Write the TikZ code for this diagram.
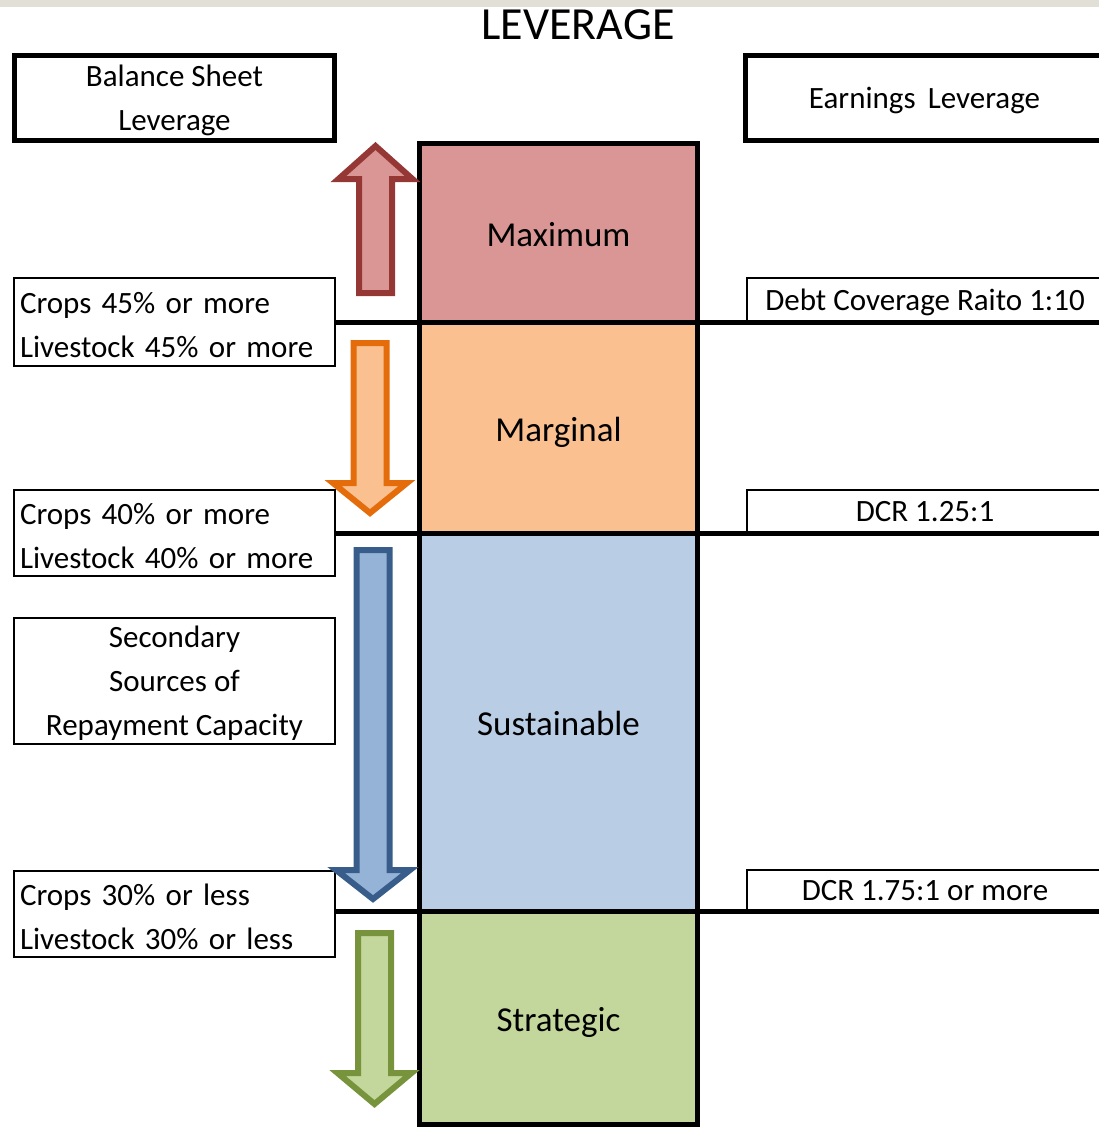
\documentclass[tikz,border=0pt]{standalone}
\usepackage{fontspec}
\setmainfont{Carlito}
\usetikzlibrary{positioning}
\definecolor{maxfill}{HTML}{D99694}
\definecolor{maxline}{HTML}{953735}
\definecolor{margfill}{HTML}{FAC090}
\definecolor{margline}{HTML}{E46C0A}
\definecolor{sustfill}{HTML}{B9CDE5}
\definecolor{sustarrow}{HTML}{95B3D7}
\definecolor{sustline}{HTML}{385D8A}
\definecolor{stratfill}{HTML}{C3D69B}
\definecolor{stratline}{HTML}{77933C}
\definecolor{topband}{HTML}{E2DFD6}
\newcommand{\lblfont}{\fontsize{31}{44}\selectfont}
\newcommand{\levfont}{\fontsize{35}{42}\selectfont}
\tikzset{
  headbox/.style={draw, line width=5pt, inner sep=0pt, outer sep=0pt, align=center, text depth=0pt, font=\lblfont},
  limitbox/.style={draw, line width=1.8pt, inner sep=0pt, outer sep=0pt, font=\lblfont},
  croptext/.style={text width=309pt, align=left, text height=22pt, text depth=40pt},
  level/.style={draw, line width=5pt, inner sep=0pt, outer sep=0pt, minimum width=278pt, text height=27pt, text depth=0pt, font=\levfont},
  divider/.style={line width=5pt},
  fatarrow/.style={line width=6pt, line join=miter}
}

\begin{document}
\begin{tikzpicture}[x=1pt, y=-1pt]
\useasboundingbox (0,0) rectangle (1099,1127);
\fill[topband] (0,0) rectangle (1099,7);
\node[font=\fontsize{46}{46}\selectfont] (title) at (578,25) {LEVERAGE};

\node[headbox, minimum width=320pt, minimum height=85pt, anchor=north west] (balance) at (14.5,55.5) {Balance Sheet\\Leverage};
\node[headbox, minimum width=358pt, minimum height=85pt, anchor=north west] (earnings) at (745.5,55.5) {Earnings\, Leverage};

\node[level, fill=maxfill, minimum height=178.5pt, anchor=north west] (maximum) at (419.5,143.5) {Maximum};
\node[level, fill=margfill, minimum height=211pt, below=0pt of maximum] (marginal) {Marginal};
\node[level, fill=sustfill, minimum height=378pt, below=0pt of marginal] (sustainable) {Sustainable};
\node[level, fill=stratfill, minimum height=213.5pt, below=0pt of sustainable] (strategic) {Strategic};

\node[limitbox, croptext, minimum width=321pt, minimum height=88pt, anchor=north west] (crops45) at (14,278) {Crops 45\% or more\\Livestock 45\% or more};
\node[limitbox, croptext, minimum width=321pt, minimum height=86pt, anchor=north west] (crops40) at (14,490) {Crops 40\% or more\\Livestock 40\% or more};
\node[limitbox, minimum width=321pt, minimum height=126pt, align=center, text depth=0pt, anchor=north west] (secondary) at (14,618) {Secondary\\Sources of\\Repayment Capacity};
\node[limitbox, croptext, minimum width=321pt, minimum height=86pt, anchor=north west] (crops30) at (14,871) {Crops 30\% or less\\Livestock 30\% or less};

\node[limitbox, text depth=0pt, minimum width=356pt, minimum height=44pt, anchor=south west] (dcr10) at (747,322) {Debt Coverage Raito 1:10};
\node[limitbox, text depth=0pt, minimum width=356pt, minimum height=43pt, anchor=south west] (dcr125) at (747,533) {DCR 1.25:1};
\node[limitbox, text depth=0pt, minimum width=356pt, minimum height=41pt, anchor=south west] (dcr175) at (747,911) {DCR 1.75:1 or more};

\draw[divider] (crops45.east |- dcr10.south) -- (dcr10.south east);
\draw[divider] (crops40.east |- dcr125.south) -- (dcr125.south east);
\draw[divider] (crops30.east |- dcr175.south) -- (dcr175.south east);

\foreach \cx/\ytail/\ybase/\ytip/\fc/\dc in {375.5/293/179/146/maxfill/maxline, 370/343/483/513/margfill/margline, 373/550/870/899/sustarrow/sustline, 374.5/933/1073/1104/stratfill/stratline}
  \filldraw[fatarrow, fill=\fc, draw=\dc] (\cx-16.5,\ytail) -- (\cx-16.5,\ybase) -- (\cx-37,\ybase) -- (\cx,\ytip) -- (\cx+37,\ybase) -- (\cx+16.5,\ybase) -- (\cx+16.5,\ytail) -- cycle;
\end{tikzpicture}
\end{document}
